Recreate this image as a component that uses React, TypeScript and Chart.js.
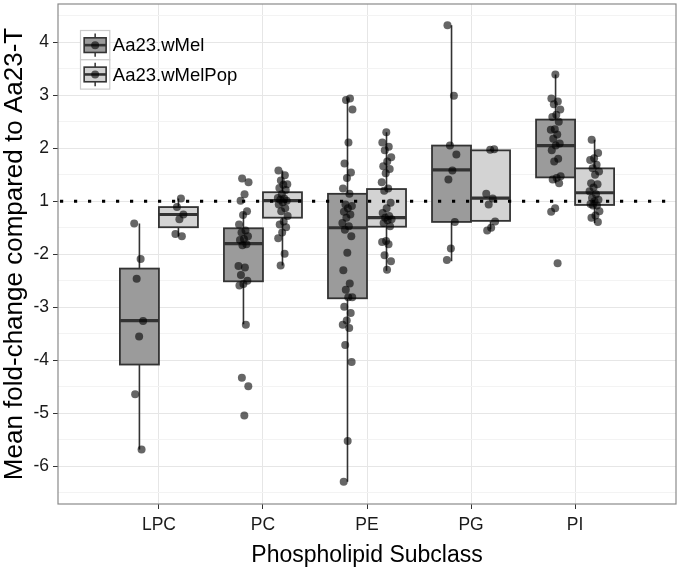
import React, { useEffect, useRef } from 'react';
import { Chart, registerables } from 'chart.js';

Chart.register(...registerables);

// ---------- data (fold-change values, as on the axis labels) ----------
const categories = ['LPC', 'PC', 'PE', 'PG', 'PI'];
const groups = ['Aa23.wMel', 'Aa23.wMelPop'];
const yTickLabels = [4, 3, 2, 1, -2, -3, -4, -5, -6];
const referenceLine = 1;

// box-plot statistics per category
const wMelLow = [-5.68, -3.32, -6.29, -2.13, 1.34];
const wMelQ1 = [-4.08, -2.51, -2.83, -1.39, 1.45];
const wMelMedian = [-3.25, -1.8, -1.5, 1.59, 2.05];
const wMelQ3 = [-2.27, -1.51, 1.14, 2.05, 2.54];
const wMelHigh = [-1.42, -1.21, 2.94, 4.32, 3.39];

const wMelPopLow = [-1.66, -2.21, -2.31, -1.53, -1.41];
const wMelPopQ1 = [-1.49, -1.31, -1.48, -1.37, -1.07];
const wMelPopMedian = [-1.25, 1.01, -1.31, 1.06, 1.16];
const wMelPopQ3 = [-1.11, 1.17, 1.23, 1.96, 1.62];
const wMelPopHigh = [1.05, 1.58, 2.3, 1.98, 2.16];

// individual lipid species (jittered points)
const LPC_wMel = [-1.42, -2.09, -2.46, -3.26, -3.55, -4.64, -5.68];
const LPC_wMelPop = [1.05, -1.11, -1.25, -1.34, -1.62, -1.66];
const PC_wMel = [1.43, 1.36, 1.13, 1.01, -1.19, -1.26, -1.44, -1.55, -1.59, -1.66, -1.71, -1.73, -1.81, -1.83, -2.22, -2.25, -2.39, -2.5, -2.56, -2.59, -3.33, -4.33, -4.49, -5.04];
const PC_wMelPop = [1.58, 1.49, 1.39, 1.32, 1.31, 1.25, 1.21, 1.13, 1.06, 1.05, 1.03, 1.01, -1.02, -1.06, -1.13, -1.19, -1.28, -1.38, -1.44, -1.49, -1.59, -1.7, -1.99, -2.21];
const PE_wMel = [2.94, 2.91, 2.73, 2.11, 1.71, 1.54, 1.44, 1.24, 1.14, -1.06, -1.09, -1.13, -1.2, -1.25, -1.31, -1.41, -1.47, -1.54, -1.66, -1.97, -2.3, -2.55, -2.67, -2.81, -2.81, -2.99, -3.11, -3.25, -3.33, -3.39, -3.71, -4.03, -5.52, -6.29];
const PE_wMelPop = [2.3, 2.11, 2.03, 1.96, 1.83, 1.75, 1.66, 1.61, 1.53, 1.36, 1.24, 1.2, -1.03, -1.13, -1.22, -1.28, -1.31, -1.34, -1.36, -1.41, -1.47, -1.75, -1.77, -1.81, -2.02, -2.13, -2.29];
const PG_wMel = [4.32, 2.99, 2.05, 1.88, 1.58, 1.41, -1.39, -1.89, -2.11];
const PG_wMelPop = [1.98, 1.97, 1.14, 1.05, -1.06, -1.38, -1.5, -1.55];
const PI_wMel = [3.39, 2.94, 2.88, 2.83, 2.73, 2.63, 2.59, 2.5, 2.36, 2.35, 2.26, 2.18, 2.09, 2.05, 1.96, 1.8, 1.75, 1.47, 1.44, 1.41, 1.34, -1.13, -1.2, -2.17];
const PI_wMelPop = [2.16, 1.91, 1.81, 1.78, 1.69, 1.62, 1.56, 1.5, 1.34, 1.32, 1.26, 1.19, 1.13, 1.06, 1.03, 1.0, -1.05, -1.08, -1.08, -1.19, -1.27, -1.31, -1.39];

const wMelPoints = [LPC_wMel, PC_wMel, PE_wMel, PG_wMel, PI_wMel];
const wMelPopPoints = [LPC_wMelPop, PC_wMelPop, PE_wMelPop, PG_wMelPop, PI_wMelPop];

// ---------- helpers ----------
// fold change axis: +1 and -1 coincide, so negative values are shifted by 2
const toAxis = (fc: number) => (fc > 0 ? fc : fc + 2);
const toLabel = (v: number) => (v >= 1 ? v : v - 2);

const FONT = "'Liberation Sans', Arial, Helvetica, sans-serif";
const DODGE = 0.1875;
const HALF_BOX = 0.1875;
const BOX_FILL = ['#9b9b9b', '#d3d3d3'];
const POINT_COLOR = 'rgba(0,0,0,0.6)';

const boxStats = [
  { low: wMelLow, q1: wMelQ1, med: wMelMedian, q3: wMelQ3, high: wMelHigh },
  { low: wMelPopLow, q1: wMelPopQ1, med: wMelPopMedian, q3: wMelPopQ3, high: wMelPopHigh },
];

const jitter = (i: number, c: number) => ((((i * 0.618034 + c * 0.37) % 1) + 1) % 1 - 0.5) * 0.1;

const buildPoints = (sets: number[][], g: number) =>
  sets.flatMap((vals, c) =>
    vals.map((v, i) => ({ x: c + 1 + (g === 0 ? -DODGE : DODGE) + jitter(i, c + g * 2), y: toAxis(v) }))
  );

const majorPositions = yTickLabels.map((l) => toAxis(l));
const gridPositions: number[] = [];
majorPositions
  .slice()
  .sort((a, b) => a - b)
  .forEach((p, i) => {
    if (i === 0) gridPositions.push(p - 0.5);
    gridPositions.push(p);
    gridPositions.push(p + 0.5);
  });

const boxPlugin = {
  id: 'boxes',
  beforeDatasetsDraw(chart: any) {
    const { ctx, chartArea, scales } = chart;
    const xs = scales.x;
    const ys = scales.y;
    ctx.save();
    ctx.beginPath();
    ctx.rect(chartArea.left, chartArea.top, chartArea.right - chartArea.left, chartArea.bottom - chartArea.top);
    ctx.clip();
    categories.forEach((_, c) => {
      boxStats.forEach((s, g) => {
        const cx = c + 1 + (g === 0 ? -DODGE : DODGE);
        const px = xs.getPixelForValue(cx);
        const l = xs.getPixelForValue(cx - HALF_BOX);
        const r = xs.getPixelForValue(cx + HALF_BOX);
        const yLow = ys.getPixelForValue(toAxis(s.low[c]));
        const yQ1 = ys.getPixelForValue(toAxis(s.q1[c]));
        const yMed = ys.getPixelForValue(toAxis(s.med[c]));
        const yQ3 = ys.getPixelForValue(toAxis(s.q3[c]));
        const yHigh = ys.getPixelForValue(toAxis(s.high[c]));
        ctx.strokeStyle = '#333333';
        ctx.lineWidth = 1.6;
        ctx.beginPath();
        ctx.moveTo(px, yQ3);
        ctx.lineTo(px, yHigh);
        ctx.moveTo(px, yQ1);
        ctx.lineTo(px, yLow);
        ctx.stroke();
        ctx.fillStyle = BOX_FILL[g];
        ctx.fillRect(l, yQ3, r - l, yQ1 - yQ3);
        ctx.lineWidth = 1.8;
        ctx.strokeRect(l, yQ3, r - l, yQ1 - yQ3);
        ctx.lineWidth = 3.2;
        ctx.beginPath();
        ctx.moveTo(l, yMed);
        ctx.lineTo(r, yMed);
        ctx.stroke();
      });
    });
    // dotted reference line
    const yRef = ys.getPixelForValue(toAxis(referenceLine));
    ctx.strokeStyle = '#000';
    ctx.lineWidth = 3.2;
    ctx.setLineDash([3.2, 10.8]);
    ctx.lineDashOffset = -2;
    ctx.beginPath();
    ctx.moveTo(chartArea.left, yRef);
    ctx.lineTo(chartArea.right, yRef);
    ctx.stroke();
    ctx.restore();
  },
  afterDraw(chart: any) {
    const { ctx, chartArea } = chart;
    ctx.save();
    // panel border
    ctx.strokeStyle = '#8a8a8a';
    ctx.lineWidth = 1.2;
    ctx.strokeRect(chartArea.left, chartArea.top, chartArea.right - chartArea.left, chartArea.bottom - chartArea.top);
    // legend
    const keyX = 80.5;
    const keyY = 30.5;
    const key = 29.3;
    groups.forEach((name, g) => {
      const top = keyY + g * key;
      ctx.fillStyle = '#ffffff';
      ctx.fillRect(keyX, top, key, key);
      ctx.strokeStyle = '#cccccc';
      ctx.lineWidth = 1.2;
      ctx.strokeRect(keyX, top, key, key);
      const cx = keyX + key / 2;
      const bx0 = keyX + key * 0.125;
      const bx1 = keyX + key * 0.875;
      const by0 = top + key * 0.25;
      const by1 = top + key * 0.75;
      ctx.strokeStyle = '#333333';
      ctx.lineWidth = 1.5;
      ctx.beginPath();
      ctx.moveTo(cx, top + key * 0.1);
      ctx.lineTo(cx, by0);
      ctx.moveTo(cx, by1);
      ctx.lineTo(cx, top + key * 0.9);
      ctx.stroke();
      ctx.fillStyle = BOX_FILL[g];
      ctx.fillRect(bx0, by0, bx1 - bx0, by1 - by0);
      ctx.lineWidth = 1.6;
      ctx.strokeRect(bx0, by0, bx1 - bx0, by1 - by0);
      ctx.lineWidth = 2.6;
      ctx.beginPath();
      ctx.moveTo(bx0, top + key / 2);
      ctx.lineTo(bx1, top + key / 2);
      ctx.stroke();
      ctx.fillStyle = POINT_COLOR;
      ctx.beginPath();
      ctx.arc(cx, top + key / 2, 4, 0, Math.PI * 2);
      ctx.fill();
      ctx.fillStyle = '#000';
      ctx.font = `18.5px ${FONT}`;
      ctx.textAlign = 'left';
      ctx.textBaseline = 'middle';
      ctx.fillText(name, keyX + key + 3, top + key / 2 + 1);
    });
    ctx.restore();
  },
};

export default function App() {
  const canvasRef = useRef<HTMLCanvasElement | null>(null);

  useEffect(() => {
    if (!canvasRef.current) return;
    const chart = new Chart(canvasRef.current, {
      type: 'scatter',
      data: {
        datasets: [
          {
            label: groups[0],
            data: buildPoints(wMelPoints, 0),
            backgroundColor: POINT_COLOR,
            borderWidth: 0,
            pointRadius: 4,
          },
          {
            label: groups[1],
            data: buildPoints(wMelPopPoints, 1),
            backgroundColor: POINT_COLOR,
            borderWidth: 0,
            pointRadius: 4,
          },
        ],
      },
      options: {
        animation: false,
        responsive: false,
        devicePixelRatio: 1,
        layout: { padding: { top: 1, right: 1, left: 0, bottom: 0 } },
        plugins: { legend: { display: false }, tooltip: { enabled: false } },
        scales: {
          x: {
            type: 'linear',
            min: 0.03,
            max: 5.97,
            afterBuildTicks: (s: any) => {
              s.ticks = categories.map((_, i) => ({ value: i + 1 }));
            },
            afterFit: (s: any) => {
              s.height = 68;
              s.paddingLeft = 0;
              s.paddingRight = 0;
            },
            border: { display: false },
            grid: { color: '#e6e6e6', tickColor: '#333333', tickLength: 5, lineWidth: 1 },
            ticks: {
              autoSkip: false,
              maxRotation: 0,
              padding: 6,
              color: '#1a1a1a',
              font: { family: FONT, size: 17.5 },
              callback: (v: any) => categories[Math.round(Number(v)) - 1] ?? '',
            },
            title: {
              display: true,
              text: 'Phospholipid Subclass',
              color: '#000',
              font: { family: FONT, size: 23, lineHeight: 1.2 },
              padding: { top: 0, bottom: 3 },
            },
          },
          y: {
            type: 'linear',
            min: -4.71,
            max: 4.72,
            afterBuildTicks: (s: any) => {
              s.ticks = gridPositions.map((v) => ({ value: v }));
            },
            afterFit: (s: any) => {
              s.width = 58;
              s.paddingTop = 0;
              s.paddingBottom = 0;
            },
            border: { display: false },
            grid: {
              color: (ctx: any) => (ctx.tick && Number.isInteger(ctx.tick.value) ? '#e6e6e6' : '#f3f3f3'),
              tickColor: (ctx: any) => (ctx.tick && Number.isInteger(ctx.tick.value) ? '#333333' : 'rgba(0,0,0,0)'),
              tickLength: 5,
              lineWidth: 1,
            },
            ticks: {
              autoSkip: false,
              padding: 4,
              color: '#1a1a1a',
              font: { family: FONT, size: 17.5 },
              callback: (v: any) => (Number.isInteger(Number(v)) ? String(toLabel(Number(v))) : ''),
            },
            title: {
              display: true,
              text: 'Mean fold-change compared to Aa23-T',
              color: '#000',
              font: { family: FONT, size: 26, lineHeight: 1.2 },
              padding: { top: -1, bottom: 0 },
            },
          },
        },
      },
      plugins: [boxPlugin],
    } as any);
    return () => chart.destroy();
  }, []);

  return (
    <div style={{ position: 'absolute', left: 0, top: 0, width: 680, height: 572, background: '#fff' }}>
      <canvas ref={canvasRef} width={680} height={572} />
    </div>
  );
}
